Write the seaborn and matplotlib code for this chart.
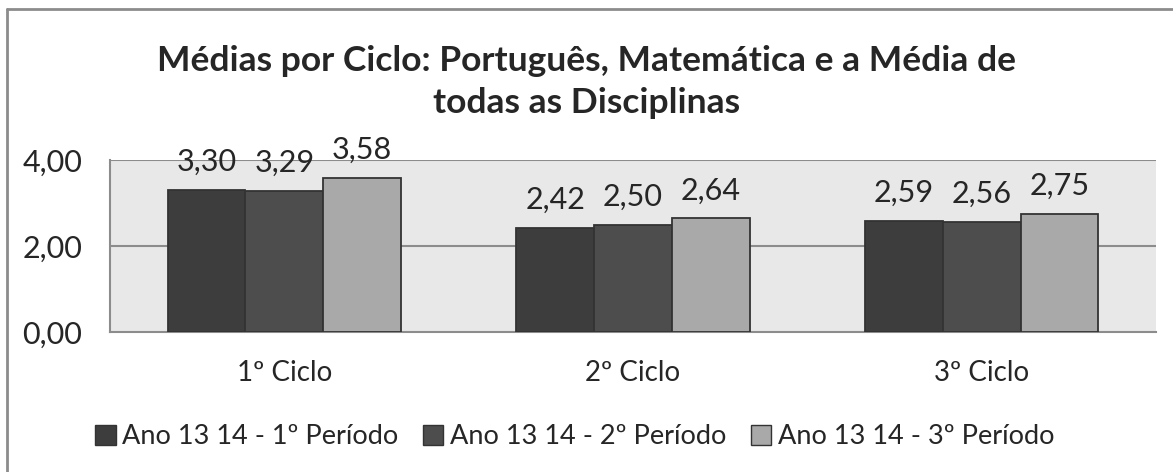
import matplotlib
matplotlib.use("Agg")
import matplotlib.pyplot as plt
import seaborn as sns
import pandas as pd
from matplotlib.lines import Line2D
from matplotlib.patches import Patch

# Data
ciclos = ['1º Ciclo', '2º Ciclo', '3º Ciclo']
periodos = ['Ano 13 14 - 1º Período', 'Ano 13 14 - 2º Período', 'Ano 13 14 - 3º Período']
periodo_1 = [3.30, 2.42, 2.59]
periodo_2 = [3.29, 2.50, 2.56]
periodo_3 = [3.58, 2.64, 2.75]
y_ticks = [0, 2, 4]
cores = ['#3d3d3d', '#4d4d4d', '#a9a9a9']

df = pd.DataFrame({
    'Ciclo': ciclos * 3,
    'Periodo': [periodos[0]] * 3 + [periodos[1]] * 3 + [periodos[2]] * 3,
    'Media': periodo_1 + periodo_2 + periodo_3,
})

sns.set_style('white')
plt.rcParams['font.family'] = ['Lato', 'DejaVu Sans']

W, H = 1173, 472
fig = plt.figure(figsize=(W / 100, H / 100), dpi=100)
ax = fig.add_axes([110 / W, 1 - 332 / H, (1156 - 110) / W, (332 - 160) / H])

sns.barplot(data=df, x='Ciclo', y='Media', hue='Periodo', palette=cores,
            width=0.67, edgecolor='#333333', linewidth=1.3, ax=ax,
            legend=False, errorbar=None, zorder=3)

grid_col = '#8c8c8c'
ax.set_facecolor('#e8e8e8')
ax.set_ylim(0, 4)
ax.set_xlim(-0.5, 2.5)
ax.set_yticks(y_ticks)
ax.set_yticklabels([f'{v:.2f}'.replace('.', ',') for v in y_ticks], fontsize=22)
for v in y_ticks[1:]:
    ax.axhline(v, color=grid_col, lw=1.5, zorder=1)
ax.set_xlabel('')
ax.set_ylabel('')
ax.tick_params(axis='x', which='major', length=0, labelsize=20, pad=20)
ax.set_xticks([-0.5, 0.5, 1.5, 2.5], minor=True)
ax.tick_params(axis='x', which='minor', length=6, width=1.5, color=grid_col, direction='out')
ax.tick_params(axis='y', length=7, width=1.5, color=grid_col, direction='out', pad=13)
for s in ['top', 'right']:
    ax.spines[s].set_visible(False)
for s in ['left', 'bottom']:
    ax.spines[s].set_color(grid_col)
    ax.spines[s].set_linewidth(1.5)

# data labels
for cont in ax.containers:
    for bar in cont:
        h = bar.get_height()
        ax.annotate(f'{h:.2f}'.replace('.', ','), (bar.get_x() + bar.get_width() / 2, h),
                    xytext=(0, 19), textcoords='offset pixels', ha='center',
                    va='baseline', fontsize=22, annotation_clip=False)

fig.text(0.5, 1 - 82 / H, 'Médias por Ciclo: Português, Matemática e a Média de\ntodas as Disciplinas',
         ha='center', va='center', fontsize=25.5, fontweight='bold', linespacing=1.35)

handles = [Patch(facecolor=c, edgecolor='#333333', linewidth=1) for c in cores]
fig.legend(handles, periodos, loc='center', bbox_to_anchor=(0.49, 1 - 437 / H), ncol=3,
           frameon=False, fontsize=19.5, handlelength=0.75, handleheight=0.75,
           handletextpad=0.25, columnspacing=0.9)

# chart frame (cut off at right and bottom)
fig.add_artist(Line2D([7 / W, 1], [1 - 9 / H, 1 - 9 / H], color=grid_col, lw=2))
fig.add_artist(Line2D([7 / W, 7 / W], [0, 1 - 9 / H], color=grid_col, lw=2))

fig.savefig('out.png', dpi=100)
